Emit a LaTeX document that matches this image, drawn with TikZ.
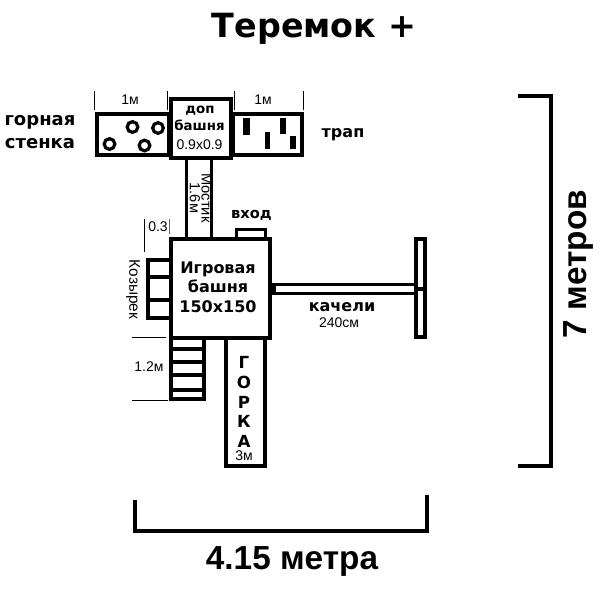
\documentclass[tikz,border=0pt]{standalone}
\usepackage{fontspec}
\setmainfont{Liberation Sans}
\newfontfamily\wide{DejaVu Sans}
\newcommand{\fs}[1]{\fontsize{#1}{#1}\selectfont}
\tikzset{
  x=0.75pt,y=-0.75pt,
  box/.style={draw=black,line width=3pt,fill=white},
  bracket/.style={draw=black,line width=3pt},
  thin line/.style={draw=black,line width=0.6pt},
  hole/.style={draw=black,line width=2.4pt,fill=white,circle,inner sep=0pt,minimum size=8pt},
  peg/.style={fill=black},
  lbl/.style={inner sep=0pt,align=center,font=\fs{10.5}},
  blbl/.style={inner sep=0pt,anchor=base,font=\wide\bfseries\fs{12},text=black},
}
\begin{document}
\begin{tikzpicture}
\useasboundingbox (0,0) rectangle (600,600);
\fill[white] (0,0) rectangle (600,600);
% title
\node[inner sep=0pt,font=\wide\bfseries\fs{25}] (title) at (314,29) {Теремок +};
% towers and panels
\draw[box] (97,114) rectangle (169,155);
\draw[box] (233,114) rectangle (302,155);
\draw[box,line width=2.6pt] (186.5,158) rectangle (211.5,239);
\draw[box] (171,99) rectangle (231,158);
\draw[box,line width=2.6pt] (236.5,229.5) rectangle (265.5,239);
\draw[box] (148,260) rectangle (171,318);
\draw[bracket,line width=2.6pt] (148,277) -- (171,277) (148,300) -- (171,300);
\draw[box] (171,338) rectangle (204,399);
\draw[bracket,line width=2.4pt] (171,349) -- (204,349) (171,362) -- (204,362) (171,375) -- (204,375) (171,390) -- (204,390);
\draw[box] (226,338) rectangle (265,466);
\draw[box,line width=2.6pt] (272,284.5) rectangle (420,293.5);
\draw[box,line width=2.6pt] (416,239) rectangle (425,337);
\draw[bracket,line width=2.4pt] (416,289) -- (425,289);
\fill (272,284) rectangle (276,294);
\draw[box] (171,239) rectangle (270,338);
% holes
\node[hole] (h1) at (132.5,127) {};
\node[hole] (h2) at (158,128) {};
\node[hole] (h3) at (109.5,144) {};
\node[hole] (h4) at (144.5,145.5) {};
% pegs
\fill[peg] (243,118) rectangle (250,135);
\fill[peg] (265,132) rectangle (270,149);
\fill[peg] (280,118) rectangle (286,134);
\fill[peg] (290,136) rectangle (296,149);
% thin dimension lines
\draw[thin line] (94,91) -- (94,110);
\draw[thin line] (167,91) -- (167,110);
\draw[thin line] (234,91) -- (234,110);
\draw[thin line] (303,91) -- (303,110);
\draw[thin line] (144,219) -- (144,252);
\draw[thin line,draw=black!60] (169.5,219) -- (169.5,234);
\draw[thin line] (132,337) -- (166,337);
\draw[thin line] (132,400) -- (168,400);
% big brackets
\draw[bracket] (518,96) -- (551,96) -- (551,466) -- (518,466);
\draw[bracket] (135,500) -- (135,531) -- (427,531) -- (427,495);
% labels
\node[lbl] (m1) at (130,100) {1м};
\node[lbl] (m2) at (263,100) {1м};
\node[blbl,font=\wide\bfseries\fs{13.5}] (wall1) at (40,125) {горная};
\node[blbl,font=\wide\bfseries\fs{13.5}] (wall2) at (40,148) {стенка};
\node[blbl] (trap) at (343,137) {трап};
\node[blbl,font=\wide\bfseries\fs{10}] (dop1) at (200,113) {доп};
\node[blbl,font=\wide\bfseries\fs{10}] (dop2) at (199.5,130) {башня};
\node[lbl] (dop3) at (199.5,145) {0.9x0.9};
\node[lbl,rotate=-90,font=\fs{11}] (most) at (206.5,198) {Мостик};
\node[lbl,rotate=-90,font=\fs{11}] (most2) at (195,198) {1.6м};
\node[blbl,font=\wide\bfseries\fs{11}] (vhod) at (251.5,218) {вход};
\node[lbl] (z3) at (158,227) {0.3};
\node[lbl,rotate=-90,font=\fs{11.5}] (koz) at (133,289.5) {Козырек};
\node[lbl] (m12) at (149,367) {1.2м};
\node[blbl] (t1) at (218,273) {Игровая};
\node[blbl] (t2) at (218,292) {башня};
\node[blbl] (t3) at (218,312) {150x150};
\node[blbl] (kach) at (342,311) {качели};
\node[lbl] (k240) at (339,323) {240см};
\node[blbl,font=\wide\bfseries\fs{12.5}] (g1) at (244,368) {Г};
\node[blbl,font=\wide\bfseries\fs{12.5}] (g2) at (244,388) {О};
\node[blbl,font=\wide\bfseries\fs{12.5}] (g3) at (244,408) {Р};
\node[blbl,font=\wide\bfseries\fs{12.5}] (g4) at (244,427) {К};
\node[blbl,font=\wide\bfseries\fs{12.5}] (g5) at (244,447) {А};
\node[lbl,font=\fs{10.5}] (g6) at (244,456) {3м};
\node[inner sep=0pt,rotate=90,font=\bfseries\fs{25}] (seven) at (578,264) {7 метров};
\node[inner sep=0pt,font=\bfseries\fs{25}] (w415) at (292,561) {4.15 метра};
\end{tikzpicture}
\end{document}
